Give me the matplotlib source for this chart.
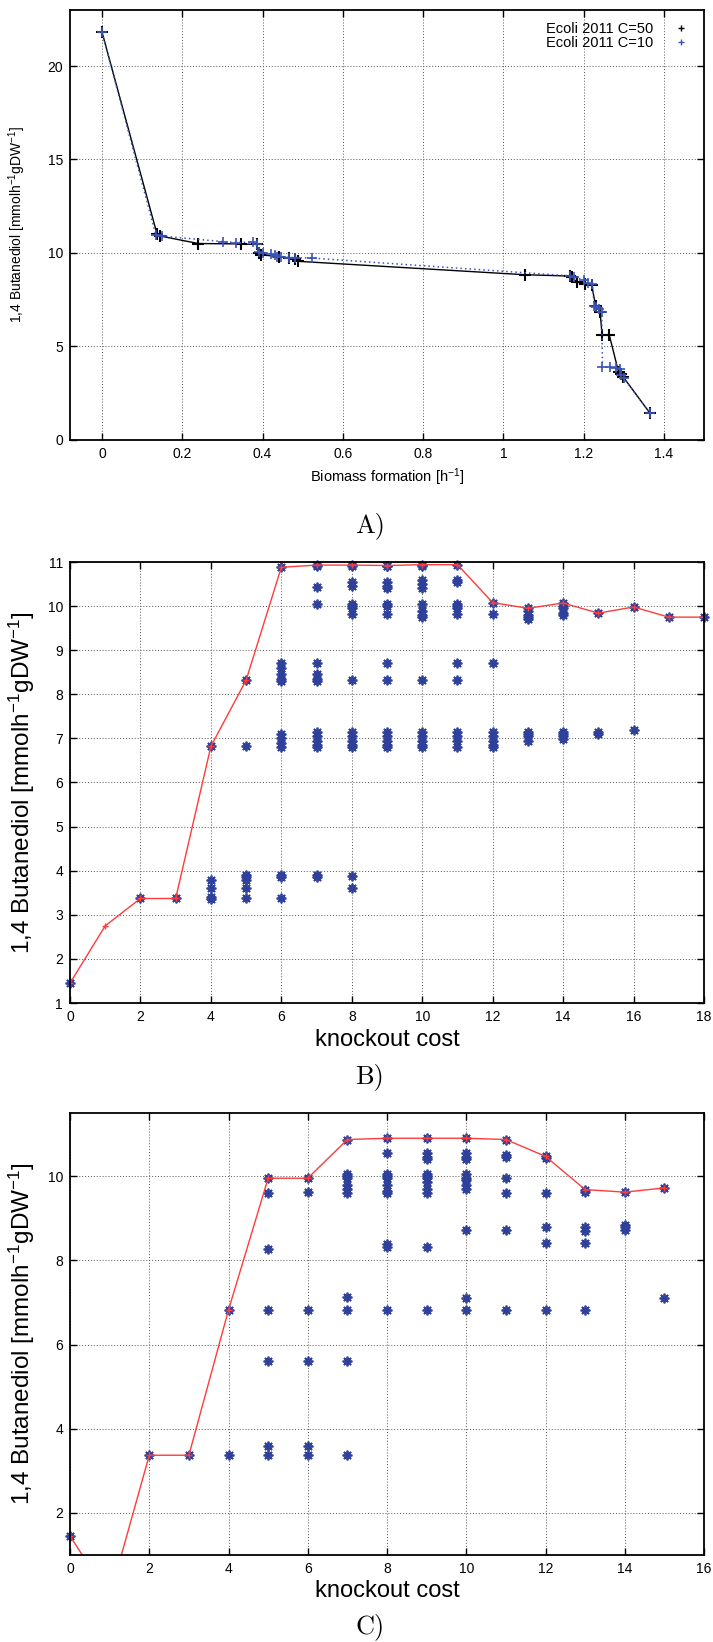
import numpy as np
import matplotlib.pyplot as plt

plt.rcParams['font.family'] = ['Liberation Sans', 'DejaVu Sans']
plt.rcParams['mathtext.default'] = 'regular'

# panel A: Pareto fronts (biomass vs 1,4 butanediol)
c50_x = [0, 0.137, 0.145, 0.24, 0.345, 0.385, 0.39, 0.395, 0.44, 0.465, 0.48, 0.487,
         1.053, 1.165, 1.17, 1.184, 1.204, 1.22, 1.23, 1.241, 1.246, 1.264, 1.287, 1.292, 1.299, 1.365]
c50_y = [21.8, 11.0, 10.9, 10.5, 10.48, 10.45, 10.0, 9.9, 9.8, 9.7, 9.65, 9.55,
         8.83, 8.76, 8.7, 8.43, 8.33, 8.3, 7.15, 6.86, 5.6, 5.6, 3.63, 3.5, 3.35, 1.43]
c10_x = [0, 0.134, 0.15, 0.302, 0.333, 0.376, 0.385, 0.39, 0.40, 0.42, 0.43, 0.435, 0.447,
         0.465, 0.48, 0.524, 1.165, 1.175, 1.2, 1.21, 1.222, 1.226, 1.232, 1.238, 1.245,
         1.247, 1.265, 1.28, 1.29, 1.293, 1.3, 1.365]
c10_y = [21.8, 10.95, 10.9, 10.6, 10.55, 10.58, 10.45, 10.05, 10.0, 9.95, 9.9, 9.8, 9.8,
         9.75, 9.75, 9.72, 8.77, 8.7, 8.56, 8.4, 8.35, 7.15, 7.1, 7.0, 6.82,
         3.9, 3.87, 3.85, 3.8, 3.45, 3.3, 1.43]

# panel B: knockout cost vs production, all solutions and best per cost
b_best_cost = list(range(19))
b_best = [1.45, 2.75, 3.37, 3.37, 6.82, 8.32, 10.88, 10.93, 10.93, 10.92, 10.94, 10.94,
          10.08, 9.95, 10.07, 9.84, 9.98, 9.75, 9.75]
b_all = {
    0: [1.45],
    2: [3.37],
    3: [3.37],
    4: [6.82, 3.8, 3.6, 3.4, 3.35],
    5: [8.32, 6.82, 3.9, 3.85, 3.8, 3.6, 3.37],
    6: [10.88, 8.7, 8.6, 8.45, 8.35, 8.3, 7.1, 7.0, 6.9, 6.8, 3.9, 3.85, 3.37],
    7: [10.93, 10.9, 10.43, 10.05, 8.7, 8.45, 8.35, 8.3, 7.15, 7.05, 6.95, 6.85, 6.8, 3.9, 3.85],
    8: [10.93, 10.9, 10.55, 10.45, 10.05, 10.0, 9.95, 9.82, 8.32, 7.15, 7.05, 6.95, 6.85, 6.8, 3.87, 3.6],
    9: [10.92, 10.9, 10.55, 10.45, 10.4, 10.05, 10.0, 9.82, 8.72, 8.32, 7.15, 7.05, 6.95, 6.85, 6.8],
    10: [10.94, 10.9, 10.6, 10.5, 10.4, 10.05, 9.9, 9.8, 9.75, 8.32, 7.15, 7.05, 6.95, 6.85, 6.8],
    11: [10.94, 10.6, 10.55, 10.05, 10.0, 9.95, 9.82, 8.7, 8.33, 7.15, 7.05, 6.95, 6.8],
    12: [10.08, 9.82, 8.7, 7.15, 7.05, 6.95, 6.85, 6.8],
    13: [9.95, 9.9, 9.8, 9.75, 9.7, 7.15, 7.1, 7.05, 6.95],
    14: [10.07, 10.0, 9.95, 9.85, 9.8, 7.15, 7.1, 7.05, 6.98],
    15: [9.84, 7.15, 7.1],
    16: [9.98, 7.18],
    17: [9.75],
    18: [9.75],
}

# panel C
c_best_cost = list(range(16))
c_best = [1.45, 0.0, 3.37, 3.37, 6.82, 9.95, 9.95, 10.87, 10.9, 10.9, 10.9, 10.87,
          10.47, 9.68, 9.62, 9.72]
c_all = {
    0: [1.45],
    2: [3.37],
    3: [3.37],
    4: [6.82, 3.37],
    5: [9.95, 9.6, 8.28, 6.82, 5.6, 3.6, 3.37],
    6: [9.95, 9.62, 6.82, 5.6, 3.6, 3.37],
    7: [10.87, 10.05, 10.0, 9.95, 9.8, 9.7, 9.6, 7.12, 6.82, 5.6, 3.37],
    8: [10.9, 10.55, 10.05, 10.0, 9.95, 9.8, 9.65, 9.6, 8.38, 8.32, 6.82],
    9: [10.9, 10.55, 10.45, 10.4, 10.05, 10.0, 9.95, 9.85, 9.7, 9.6, 8.32, 6.82],
    10: [10.9, 10.55, 10.45, 10.4, 10.05, 9.95, 9.9, 9.8, 9.7, 8.72, 7.1, 6.82],
    11: [10.87, 10.5, 10.45, 9.95, 9.6, 8.72, 6.82],
    12: [10.47, 10.42, 9.6, 8.8, 8.4, 6.82],
    13: [9.68, 9.62, 8.78, 8.7, 8.42, 6.82],
    14: [9.62, 8.85, 8.78, 8.72],
    15: [9.72, 7.1],
}

ylab = r'1,4 Butanediol [mmolh$^{-1}$gDW$^{-1}$]'
W, H = 713, 1642
star = (8, 2, 0)
blue = '#2e409a'
red = '#ff3b3b'


def style(ax):
    ax.grid(True, color='#555555', linestyle=(0, (1, 2)), linewidth=0.7)
    ax.tick_params(direction='in', top=True, right=True, length=5, width=1,
                   labelsize=10, pad=5)
    for s in ax.spines.values():
        s.set_linewidth(1.3)


fig = plt.figure(figsize=(W / 100, H / 100), dpi=100)

# A
ax = fig.add_axes([70 / W, 1 - 439.7 / H, 634 / W, 429.7 / H])
ax.plot(c50_x, c50_y, color='black', lw=1, marker='+', ms=8, mew=1.5, label='Ecoli 2011 C=50')
ax.plot(c10_x, c10_y, color='#3a55b8', lw=1.1, linestyle=(0, (1, 2)), marker='+', ms=7,
        mew=1.2, label='Ecoli 2011 C=10')
ax.set_xlim(-0.08, 1.5)
ax.set_ylim(0, 23)
ax.set_xticks(np.arange(0, 1.41, 0.2))
ax.set_xticklabels(['0', '0.2', '0.4', '0.6', '0.8', '1', '1.2', '1.4'])
ax.set_yticks([0, 5, 10, 15, 20])
style(ax)
ax.set_xlabel(r'Biomass formation [h$^{-1}$]', fontsize=10.5)
ax.set_ylabel(ylab, fontsize=10)
ax.xaxis.set_label_coords(0.5, -0.061)
ax.yaxis.set_label_coords(-0.066, 0.5)
leg = ax.legend(loc='upper right', frameon=False, markerfirst=False, fontsize=10.5,
                handlelength=1.5, handletextpad=1.2, borderaxespad=0.4, labelspacing=0.05)
for h in leg.legend_handles:
    h.set_linestyle('none')
    h.set_markersize(5)
    h.set_markeredgewidth(1)
fig.text(370 / W, 1 - 526 / H, 'A)', family='cmr10', fontsize=19, ha='center', va='center')


def knockout(ax, allv, cost, best, xmax, ylim, yticks):
    for k, vals in allv.items():
        ax.plot([k] * len(vals), vals, linestyle='none', marker=star, ms=7, mew=1.3,
                color=blue, clip_on=False)
    ax.plot(cost, best, color=red, lw=1, marker='+', ms=5, mew=1)
    ax.set_xlim(0, xmax)
    ax.set_ylim(*ylim)
    ax.set_xticks(np.arange(0, xmax + 1, 2))
    ax.set_yticks(yticks)
    style(ax)
    ax.set_xlabel('knockout cost', fontsize=17)
    ax.set_ylabel(ylab, fontsize=17.5)
    ax.yaxis.set_label_coords(-0.052, 0.5)


# B
ax = fig.add_axes([70 / W, 1 - 1003 / H, 634 / W, 441 / H])
knockout(ax, b_all, b_best_cost, b_best, 18, (1, 11), list(range(1, 12)))
ax.xaxis.set_label_coords(0.5, -0.06)
fig.text(370 / W, 1 - 1077 / H, 'B)', family='cmr10', fontsize=19, ha='center', va='center')

# C
ax = fig.add_axes([70 / W, 1 - 1555 / H, 634 / W, 442 / H])
knockout(ax, c_all, c_best_cost, c_best, 16, (1, 11.5), [2, 4, 6, 8, 10])
ax.xaxis.set_label_coords(0.5, -0.057)
fig.text(370 / W, 1 - 1627 / H, 'C)', family='cmr10', fontsize=19, ha='center', va='center')

fig.savefig('out.png', dpi=100)
